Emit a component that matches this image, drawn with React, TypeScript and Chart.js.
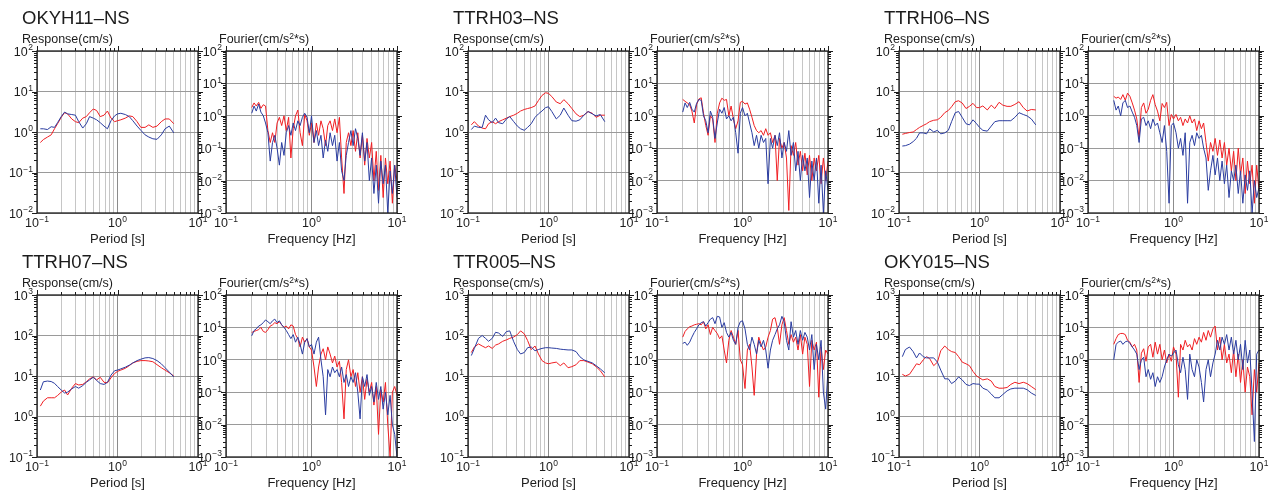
import React, { useEffect, useRef } from "react";
import { Chart, registerables } from "chart.js";

Chart.register(...registerables);

// ---------------------------------------------------------------------------
// Data: response spectra (period grid) and Fourier spectra (frequency grid)
// ---------------------------------------------------------------------------

const PERIOD = [
  0.11, 0.12, 0.135, 0.15, 0.165, 0.18, 0.2, 0.22, 0.24, 0.27,
  0.3, 0.33, 0.37, 0.41, 0.45, 0.5, 0.55, 0.61, 0.68, 0.75,
  0.83, 0.92, 1.0, 1.1, 1.25, 1.4, 1.55, 1.75, 1.95, 2.2,
  2.45, 2.75, 3.1, 3.5, 3.9, 4.4, 5.0,
];

const FREQ = [
  0.2, 0.213, 0.226, 0.241, 0.256, 0.273, 0.29, 0.309,
  0.329, 0.35, 0.372, 0.396, 0.421, 0.448, 0.477, 0.507,
  0.54, 0.574, 0.611, 0.65, 0.692, 0.736, 0.783, 0.833,
  0.887, 0.943, 1.0, 1.07, 1.14, 1.21, 1.29, 1.37,
  1.46, 1.55, 1.65, 1.76, 1.87, 1.99, 2.12, 2.25,
  2.4, 2.55, 2.71, 2.89, 3.07, 3.27, 3.48, 3.7,
  3.94, 4.19, 4.46, 4.75, 5.05, 5.37, 5.72, 6.08,
  6.47, 6.89, 7.33, 7.8, 8.3, 8.83, 9.4, 10.0,
];

// --- OKYH11 ---
const OKYH11_RESP_RED = [
  0.55, 0.65, 0.75, 0.85, 1.2, 1.6, 2.3, 3.0, 2.8, 2.1,
  1.8, 1.7, 2.2, 2.4, 3.0, 3.7, 3.4, 2.4, 2.6, 3.3,
  2.2, 1.8, 1.9, 2.0, 2.2, 2.5, 2.4, 1.8, 1.3, 1.3,
  1.5, 1.3, 1.4, 1.8, 2.1, 2.1, 1.6,
];
const OKYH11_RESP_BLUE = [
  1.2, 1.2, 1.15, 1.35, 1.3, 1.7, 2.4, 3.1, 2.8, 2.7,
  2.6, 1.8, 1.25, 1.6, 2.4, 2.2, 2.0, 1.7, 1.4, 1.2,
  1.9, 2.5, 2.8, 2.9, 2.7, 2.4, 1.9, 1.4, 1.1, 0.85,
  0.75, 0.68, 0.66, 0.85, 1.2, 1.4, 0.95,
];
const OKYH11_FOUR_RED = [
  1.8, 2.5, 2.0, 2.6, 1.7, 2.2, 2.0, 0.35,
  0.15, 0.3, 0.15, 0.6, 0.9, 0.5, 1.0, 0.35,
  0.9, 0.05, 0.4, 1.0, 1.5, 0.3, 0.12, 1.1,
  0.7, 0.25, 0.6, 0.15, 0.6, 0.25, 0.7, 0.4,
  0.12, 0.5, 0.7, 0.35, 0.8, 0.3, 0.9, 0.05,
  0.004, 0.15, 0.3, 0.12, 0.35, 0.08, 0.3, 0.05,
  0.25, 0.03, 0.2, 0.05, 0.15, 0.01, 0.08, 0.005,
  0.06, 0.003, 0.05, 0.008, 0.04, 0.002, 0.03, 0.01,
];
const OKYH11_FOUR_BLUE = [
  1.2, 2.0, 1.4, 2.3, 1.3, 1.0, 0.6, 0.3,
  0.04, 0.15, 0.25, 0.1, 0.03, 0.15, 0.06, 0.3,
  0.5, 0.25, 0.6, 0.35, 0.7, 0.5, 0.9, 1.2,
  0.9, 0.3, 1.0, 0.15, 0.35, 0.12, 0.25, 0.05,
  0.18, 0.08, 0.3, 0.12, 0.25, 0.04, 0.15, 0.02,
  0.01, 0.06, 0.15, 0.35, 0.12, 0.4, 0.2, 0.06,
  0.3, 0.04, 0.15, 0.01, 0.05, 0.004, 0.03, 0.002,
  0.04, 0.008, 0.03, 0.001, 0.02, 0.004, 0.03, 0.003,
];

// --- TTRH03 ---
const TTRH03_RESP_RED = [
  1.5, 1.8, 1.4, 1.25, 1.2, 1.6, 1.8, 1.6, 1.8, 2.0,
  2.2, 2.4, 2.6, 2.9, 3.3, 3.6, 3.8, 4.0, 4.4, 6.0,
  8.0, 9.3, 9.0, 7.5, 5.5, 5.0, 6.3, 5.0, 3.8, 2.8,
  2.4, 2.6, 3.2, 2.9, 2.3, 2.6, 2.6,
];
const TTRH03_RESP_BLUE = [
  1.15, 1.4, 1.3, 1.3, 2.6, 2.0, 1.7, 2.2, 1.7, 1.6,
  2.1, 2.4, 1.8, 1.4, 1.2, 1.1, 1.3, 1.6, 2.3, 2.8,
  3.3, 4.0, 4.2, 3.2, 2.1, 2.6, 3.9, 2.6, 1.9, 1.85,
  2.0, 2.6, 3.2, 2.8, 2.5, 2.7, 1.8,
];
const TTRH03_FOUR_RED = [
  3.2, 2.8, 2.5, 2.2, 1.4, 0.6, 2.2, 3.3,
  3.6, 1.2, 0.5, 0.25, 1.0, 0.8, 0.15, 1.2,
  2.5, 3.5, 3.0, 3.2, 1.0, 2.0, 0.8, 0.4,
  0.7, 2.6, 2.8, 2.3, 2.5, 1.6, 0.9, 0.5,
  0.35, 0.3, 0.35, 0.25, 0.4, 0.25, 0.3, 0.15,
  0.25, 0.01, 0.2, 0.1, 0.15, 0.05, 0.0012, 0.12,
  0.06, 0.15, 0.03, 0.08, 0.02, 0.07, 0.015, 0.06,
  0.01, 0.05, 0.02, 0.06, 0.008, 0.05, 0.01, 0.04,
];
const TTRH03_FOUR_BLUE = [
  1.3, 2.5, 1.8, 2.6, 1.6, 1.3, 2.4, 3.2,
  3.0, 1.0, 0.7, 0.3, 1.4, 0.9, 0.2, 0.6,
  1.6, 1.2, 1.8, 0.8, 1.0, 0.7, 0.9, 0.3,
  0.07, 1.2, 1.8, 1.0, 1.2, 0.6, 0.3, 0.12,
  0.25, 0.1, 0.25, 0.15, 0.2, 0.008, 0.2, 0.1,
  0.25, 0.12, 0.3, 0.05, 0.15, 0.08, 0.35, 0.06,
  0.15, 0.02, 0.08, 0.01, 0.06, 0.02, 0.05, 0.003,
  0.04, 0.01, 0.05, 0.002, 0.03, 0.001, 0.02, 0.005,
];

// --- TTRH06 ---
const TTRH06_RESP_RED = [
  0.88, 0.92, 0.97, 1.0, 1.15, 1.3, 1.45, 1.6, 1.8, 1.95,
  2.0, 2.3, 3.0, 3.4, 4.2, 5.6, 5.9, 5.2, 3.8, 4.3,
  5.1, 4.0, 4.0, 4.4, 3.5, 4.6, 3.8, 5.4, 4.6, 4.3,
  4.3, 4.8, 5.6, 4.0, 3.3, 3.6, 3.5,
];
const TTRH06_RESP_BLUE = [
  0.45, 0.46, 0.5, 0.58, 0.7, 0.95, 0.95, 0.9, 1.2, 1.0,
  1.1, 0.9, 0.95, 1.1, 1.8, 3.0, 3.2, 2.3, 1.6, 1.5,
  2.0, 1.6, 1.3, 1.1, 1.05, 1.4, 1.8, 1.9, 1.9, 1.9,
  1.9, 2.3, 3.0, 2.7, 2.5, 2.1, 1.5,
];
const TTRH06_FOUR_RED = [
  4.0, 3.5, 3.8, 3.2, 4.5, 3.0, 5.0, 4.0,
  2.5, 1.5, 0.8, 0.2, 1.8, 2.5, 1.2, 1.6,
  3.0, 4.5, 2.2, 1.4, 0.7, 2.4, 1.8, 2.6,
  0.5, 1.1, 0.8, 1.1, 0.7, 0.9, 0.5, 0.8,
  0.6, 1.0, 0.6, 0.8, 0.35, 0.7, 0.4, 0.6,
  0.15, 0.04, 0.15, 0.08, 0.2, 0.06, 0.18, 0.05,
  0.15, 0.03, 0.1, 0.02, 0.08, 0.01, 0.1, 0.015,
  0.05, 0.004, 0.04, 0.008, 0.03, 0.002, 0.03, 0.005,
];
const TTRH06_FOUR_BLUE = [
  3.0, 1.5, 2.0, 1.0, 2.5, 3.0, 1.8, 2.0,
  1.3, 0.9, 0.5, 0.15, 0.8, 0.9, 0.5, 0.7,
  0.4, 0.8, 0.5, 0.6, 0.3, 0.15, 0.5, 0.08,
  0.002, 0.5, 0.6, 0.3, 0.1, 0.2, 0.06, 0.3,
  0.002, 0.15, 0.25, 0.12, 0.3, 0.2, 0.25, 0.1,
  0.05, 0.005, 0.02, 0.06, 0.015, 0.05, 0.01, 0.04,
  0.008, 0.03, 0.003, 0.02, 0.01, 0.03, 0.004, 0.02,
  0.002, 0.015, 0.005, 0.02, 0.001, 0.01, 0.003, 0.006,
];

// --- TTRH07 ---
const TTRH07_RESP_RED = [
  1.8, 2.4, 2.9, 2.9, 2.9, 3.3, 4.0, 4.5, 3.4, 5.0,
  6.5, 6.0, 6.2, 7.2, 8.5, 9.5, 8.0, 9.3, 7.0, 6.8,
  9.0, 11.5, 13, 14, 15.5, 18, 21, 23, 24, 24,
  23.5, 22.5, 19, 16, 14, 12, 10,
];
const TTRH07_RESP_BLUE = [
  4.5, 7.2, 7.5, 7.3, 6.6, 5.5, 4.5, 3.8, 4.0, 4.8,
  5.5, 5.0, 5.8, 7.0, 8.0, 9.3, 7.8, 6.5, 6.2, 7.0,
  10.5, 13.5, 14, 15, 16.5, 18.5, 21, 24, 26, 28,
  28.5, 27, 24, 20, 16, 12.5, 9.5,
];
const TTRH07_FOUR_RED = [
  7.0, 7.5, 8.0, 8.5, 10, 7.5, 7.0, 8.5,
  11, 12, 14, 13, 15, 12, 10, 11,
  9, 12, 11, 6, 4.5, 2.5, 5.0, 3.5,
  4.5, 2.5, 2.0, 0.6, 0.15, 0.6, 1.5, 2.2,
  1.0, 2.5, 1.5, 0.8, 1.3, 0.6, 0.9, 0.2,
  0.015, 0.5, 1.0, 0.3, 0.5, 0.15, 0.4, 0.1,
  0.3, 0.06, 0.25, 0.1, 0.2, 0.04, 0.15, 0.005,
  0.12, 0.05, 0.2, 0.01, 0.001, 0.1, 0.15, 0.08,
];
const TTRH07_FOUR_BLUE = [
  5.5, 8.0, 9.0, 11, 12, 14, 17, 15,
  13, 16, 18, 14, 16, 12, 10, 8,
  6, 4.5, 6, 3.5, 5, 3, 1.5, 3.5,
  4.5, 2.5, 3.0, 1.5, 3.5, 5.0, 1.0, 0.3,
  0.02, 0.5, 0.3, 0.6, 0.4, 0.5, 0.3, 0.6,
  0.2, 0.35, 0.15, 0.3, 0.2, 0.4, 0.1, 0.015,
  0.3, 0.15, 0.35, 0.08, 0.15, 0.05, 0.2, 0.06,
  0.15, 0.03, 0.1, 0.02, 0.08, 0.01, 0.005, 0.001,
];

// --- TTR005 ---
const TTR005_RESP_RED = [
  38, 52, 62, 55, 50, 55, 48, 58, 62, 72,
  78, 85, 92, 105, 130, 110, 75, 45, 55, 35,
  24, 21, 20, 21, 22, 18, 21, 16, 17, 19,
  24, 24, 22, 20, 17, 13.5, 9.5,
];
const TTR005_RESP_BLUE = [
  32, 48, 85, 100, 85, 72, 85, 120, 115, 95,
  125, 130, 70, 45, 35, 38, 50, 52, 42, 45,
  48, 50, 50, 49, 48, 46, 45, 44, 44, 40,
  30, 25, 23, 21, 18, 15, 12,
];
const TTR005_FOUR_RED = [
  5.0, 7.5, 9, 10.5, 11, 12, 12.5, 13,
  12, 15, 9, 12, 6, 10, 8, 6.5,
  4.5, 5.5, 2.0, 0.8, 4.0, 8, 5, 3,
  8, 1.0, 0.7, 0.13, 2.0, 3.0, 0.6, 0.08,
  1.5, 5, 3, 2.0, 2.5, 5, 8, 18,
  20, 10, 3, 12, 20, 8, 3, 6,
  3.5, 5, 2, 6, 1.5, 5, 3, 0.15,
  4, 2, 3.5, 0.07, 2.5, 0.5, 2, 1.5,
];
const TTR005_FOUR_BLUE = [
  3.2, 3.5, 2.8, 3.5, 5, 7, 9, 12,
  14, 15, 11, 14, 18, 20, 13, 22,
  21, 10, 14, 7, 5, 7, 4, 3,
  10, 15, 16, 9, 3, 2, 5, 3,
  1.5, 4, 2.5, 4, 2, 0.55, 2, 4,
  6, 9, 12, 22, 15, 4, 2, 15,
  5, 8, 3, 8, 4, 7, 5, 2,
  6, 0.5, 3, 1, 4, 0.1, 0.03, 0.5,
];

// --- OKY015 ---
const OKY015_RESP_RED = [
  11, 10, 11, 15, 20, 19, 25, 30, 27, 18,
  22, 42, 55, 45, 40, 38, 30, 22, 20, 18,
  13, 10, 9, 8, 8.5, 7.5, 5.5, 5.0, 5.0, 5.2,
  6.2, 7.0, 6.5, 7.0, 6.5, 5.5, 4.6,
];
const OKY015_RESP_BLUE = [
  30, 45, 52, 40, 28, 37, 30, 28, 28, 28,
  22, 14, 8.5, 8.5, 6.5, 7.5, 9.5, 8.0, 6.2, 5.8,
  6.5, 6.3, 6.3, 5.0, 4.5, 3.6, 2.9, 2.9, 3.5, 4.3,
  4.8, 5.0, 5.0, 5.0, 4.6, 3.8, 3.3,
];
const OKY015_FOUR_RED = [
  3.0, 4.5, 6.0, 6.5, 6.5, 6.0, 4.0, 3.5,
  2.5, 3.0, 2.0, 0.2, 1.6, 2.2, 0.9, 2.5,
  3.0, 1.2, 3.5, 1.5, 3.0, 1.0, 2.0, 0.8,
  1.5, 0.9, 2.5, 1.5, 0.07, 3.0, 2.0, 4.0,
  2.5, 3.0, 2.0, 4.5, 3.0, 5.0, 3.5, 7.0,
  4.0, 8.0, 5.0, 9.0, 11, 2.0, 5.0, 1.0,
  3.0, 0.8, 1.5, 0.4, 2.0, 0.3, 1.5, 0.2,
  1.0, 0.1, 0.6, 0.3, 0.02, 0.5, 0.1, 0.8,
];
const OKY015_FOUR_BLUE = [
  1.0, 3.0, 3.5, 3.8, 3.0, 3.6, 3.8, 3.2,
  2.5, 2.0, 1.5, 0.5, 1.0, 1.2, 0.3, 0.5,
  0.25, 0.4, 0.15, 0.3, 0.2, 0.3, 0.6, 1.0,
  1.5, 1.3, 1.6, 2.0, 0.7, 0.4, 1.2, 0.5,
  0.06, 1.5, 0.5, 0.3, 1.0, 0.6, 0.2, 0.05,
  0.5, 1.0, 0.3, 0.8, 1.5, 4.0, 2.0, 5.0,
  3.0, 6.0, 2.0, 5.0, 1.5, 4.0, 1.0, 3.0,
  0.5, 4.0, 0.8, 2.0, 0.1, 0.003, 1.5, 2.0,
];

const STATIONS = ["OKYH11–NS", "TTRH03–NS", "TTRH06–NS", "TTRH07–NS", "TTR005–NS", "OKY015–NS"];

const RESP_RED = [OKYH11_RESP_RED, TTRH03_RESP_RED, TTRH06_RESP_RED, TTRH07_RESP_RED, TTR005_RESP_RED, OKY015_RESP_RED];
const RESP_BLUE = [OKYH11_RESP_BLUE, TTRH03_RESP_BLUE, TTRH06_RESP_BLUE, TTRH07_RESP_BLUE, TTR005_RESP_BLUE, OKY015_RESP_BLUE];
const FOUR_RED = [OKYH11_FOUR_RED, TTRH03_FOUR_RED, TTRH06_FOUR_RED, TTRH07_FOUR_RED, TTR005_FOUR_RED, OKY015_FOUR_RED];
const FOUR_BLUE = [OKYH11_FOUR_BLUE, TTRH03_FOUR_BLUE, TTRH06_FOUR_BLUE, TTRH07_FOUR_BLUE, TTR005_FOUR_BLUE, OKY015_FOUR_BLUE];

// Axis ranges as decade exponents [low, high]
const X_RANGE = [-1, 1];
const RESP_Y_RANGE = [[-2, 2], [-2, 2], [-2, 2], [-1, 3], [-1, 3], [-1, 3]];
const FOUR_Y_RANGE = [-3, 2];

// ---------------------------------------------------------------------------
// Layout and style
// ---------------------------------------------------------------------------

const PAGE_W = 1275;
const PAGE_H = 490;
const RESP_LEFT = [37, 468, 899];
const FOUR_LEFT = [226, 657, 1088];
const ROW_TOP = [51, 295];
const RESP_W = 161;
const FOUR_W = 171;
const PLOT_H = 162;

const RED = "rgb(240, 30, 34)";
const BLUE = "rgb(42, 60, 160)";
const INK = "#1c1c1c";
const FONT = '"Liberation Sans", Arial, Helvetica, sans-serif';
const TICK_PX = 12.5;
const EXP_PX = 8.5;

const isDecade = (v: number) => {
  const l = Math.log10(v);
  return Math.abs(l - Math.round(l)) < 1e-6;
};

// 1..9 x 10^e tick values between 10^lo and 10^hi
function logTicks(lo: number, hi: number) {
  const out: number[] = [];
  for (let e = lo; e < hi; e++) {
    for (let k = 1; k < 10; k++) out.push(k * Math.pow(10, e));
  }
  out.push(Math.pow(10, hi));
  return out;
}

// Draws "10" with a raised exponent
function drawPower(ctx: CanvasRenderingContext2D, x: number, y: number, exp: number, align: "right" | "center") {
  const base = "10";
  const sup = exp < 0 ? "−" + Math.abs(exp) : String(exp);
  ctx.font = `${TICK_PX}px ${FONT}`;
  const bw = ctx.measureText(base).width;
  ctx.font = `${EXP_PX}px ${FONT}`;
  const sw = ctx.measureText(sup).width;
  const total = bw + sw + 0.5;
  const x0 = align === "right" ? x - total : x - total / 2;
  ctx.textAlign = "left";
  ctx.textBaseline = "middle";
  ctx.font = `${TICK_PX}px ${FONT}`;
  ctx.fillText(base, x0, y);
  ctx.font = `${EXP_PX}px ${FONT}`;
  ctx.fillText(sup, x0 + bw + 0.5, y - 4.5);
}

const framePlugin = {
  id: "frameAndDecades",
  afterDraw(chart: any) {
    const { ctx, chartArea: a, scales } = chart;
    const xs = scales.x;
    const ys = scales.y;
    ctx.save();
    ctx.strokeStyle = INK;
    ctx.lineWidth = 1;
    ctx.beginPath();
    ys.ticks.forEach((t: any) => {
      const py = Math.round(ys.getPixelForValue(t.value)) + 0.5;
      const len = isDecade(t.value) ? 5 : 3;
      ctx.moveTo(a.left - len, py);
      ctx.lineTo(a.left, py);
      ctx.moveTo(a.right, py);
      ctx.lineTo(a.right + len, py);
    });
    xs.ticks.forEach((t: any) => {
      const px = Math.round(xs.getPixelForValue(t.value)) + 0.5;
      const len = isDecade(t.value) ? 5 : 3;
      ctx.moveTo(px, a.top - len);
      ctx.lineTo(px, a.top);
    });
    ctx.stroke();

    ctx.lineWidth = 1.3;
    ctx.strokeRect(a.left, a.top, a.right - a.left, a.bottom - a.top);

    ctx.fillStyle = INK;
    ys.ticks.forEach((t: any) => {
      if (!isDecade(t.value)) return;
      drawPower(ctx, a.left - 4, ys.getPixelForValue(t.value) + 1.5, Math.round(Math.log10(t.value)), "right");
    });
    xs.ticks.forEach((t: any) => {
      if (!isDecade(t.value)) return;
      drawPower(ctx, xs.getPixelForValue(t.value), a.bottom + 11, Math.round(Math.log10(t.value)), "center");
    });
    ctx.restore();
  },
};

type PanelSpec = {
  id: string;
  xs: number[];
  red: number[];
  blue: number[];
  left: number;
  top: number;
  width: number;
  yLo: number;
  yHi: number;
};

function toPoints(xs: number[], ys: number[]) {
  const n = Math.min(xs.length, ys.length);
  const pts = [];
  for (let i = 0; i < n; i++) pts.push({ x: xs[i], y: ys[i] });
  return pts;
}

function SpectrumPanel({ p }: { p: PanelSpec }) {
  const ref = useRef<HTMLCanvasElement | null>(null);

  useEffect(() => {
    if (!ref.current) return;
    const xTicks = logTicks(X_RANGE[0], X_RANGE[1]);
    const yTicks = logTicks(p.yLo, p.yHi);
    const chart = new Chart(ref.current, {
      type: "line",
      data: {
        datasets: [
          {
            data: toPoints(p.xs, p.blue),
            borderColor: BLUE,
            borderWidth: 1,
            pointRadius: 0,
            tension: 0,
            fill: false,
          },
          {
            data: toPoints(p.xs, p.red),
            borderColor: RED,
            borderWidth: 1,
            pointRadius: 0,
            tension: 0,
            fill: false,
          },
        ],
      },
      options: {
        responsive: false,
        animation: false,
        events: [],
        layout: {
          padding: {
            left: p.left,
            top: p.top,
            right: PAGE_W - p.left - p.width,
            bottom: PAGE_H - p.top - PLOT_H,
          },
        },
        plugins: {
          legend: { display: false },
          tooltip: { enabled: false },
        },
        scales: {
          x: {
            type: "logarithmic",
            min: Math.pow(10, X_RANGE[0]),
            max: Math.pow(10, X_RANGE[1]),
            afterBuildTicks: (s: any) => {
              s.ticks = xTicks.map((v) => ({ value: v }));
            },
            afterFit: (s: any) => {
              s.height = 0;
            },
            ticks: { display: false },
            border: { display: false },
            grid: {
              drawTicks: false,
              lineWidth: 1,
              color: (c: any) => (isDecade(c.tick.value) ? "#8c8c8c" : "#c6c6c6"),
            },
          },
          y: {
            type: "logarithmic",
            min: Math.pow(10, p.yLo),
            max: Math.pow(10, p.yHi),
            afterBuildTicks: (s: any) => {
              s.ticks = yTicks.map((v) => ({ value: v }));
            },
            afterFit: (s: any) => {
              s.width = 0;
            },
            ticks: { display: false },
            border: { display: false },
            grid: {
              drawTicks: false,
              lineWidth: 1,
              color: (c: any) => (isDecade(c.tick.value) ? "#9a9a9a" : "rgba(0,0,0,0)"),
            },
          },
        },
      } as any,
      plugins: [framePlugin],
    });
    return () => chart.destroy();
  }, [p]);

  return (
    <canvas
      ref={ref}
      width={PAGE_W}
      height={PAGE_H}
      style={{ position: "absolute", left: 0, top: 0, width: PAGE_W, height: PAGE_H }}
    />
  );
}

function Text({
  left,
  cy,
  size,
  width,
  center,
  children,
}: {
  left: number;
  cy: number;
  size: number;
  width?: number;
  center?: boolean;
  children: React.ReactNode;
}) {
  return (
    <div
      style={{
        position: "absolute",
        left,
        top: cy - size * 0.5,
        width: width ?? "auto",
        height: size,
        lineHeight: `${size}px`,
        fontSize: size,
        fontFamily: FONT,
        color: INK,
        whiteSpace: "nowrap",
        textAlign: center ? "center" : "left",
      }}
    >
      {children}
    </div>
  );
}

const PANELS: PanelSpec[] = [];
STATIONS.forEach((_, i) => {
  const col = i % 3;
  const row = Math.floor(i / 3);
  PANELS.push({
    id: `resp-${i}`,
    xs: PERIOD,
    red: RESP_RED[i],
    blue: RESP_BLUE[i],
    left: RESP_LEFT[col],
    top: ROW_TOP[row],
    width: RESP_W,
    yLo: RESP_Y_RANGE[i][0],
    yHi: RESP_Y_RANGE[i][1],
  });
  PANELS.push({
    id: `four-${i}`,
    xs: FREQ,
    red: FOUR_RED[i],
    blue: FOUR_BLUE[i],
    left: FOUR_LEFT[col],
    top: ROW_TOP[row],
    width: FOUR_W,
    yLo: FOUR_Y_RANGE[0],
    yHi: FOUR_Y_RANGE[1],
  });
});

export default function App() {
  return (
    <div
      style={{
        position: "absolute",
        left: 0,
        top: 0,
        width: PAGE_W,
        height: PAGE_H,
        background: "#ffffff",
        overflow: "hidden",
      }}
    >
      {PANELS.map((p) => (
        <SpectrumPanel key={p.id} p={p} />
      ))}
      {STATIONS.map((name, i) => {
        const col = i % 3;
        const row = Math.floor(i / 3);
        const top = ROW_TOP[row];
        const rl = RESP_LEFT[col];
        const fl = FOUR_LEFT[col];
        return (
          <React.Fragment key={name}>
            <Text left={rl - 15} cy={top - 33} size={18.5}>
              {name}
            </Text>
            <Text left={rl - 15} cy={top - 12} size={12.5}>
              Response(cm/s)
            </Text>
            <Text left={fl - 7} cy={top - 12} size={12.5}>
              Fourier(cm/s
              <span style={{ fontSize: 8.5, position: "relative", top: -4 }}>2</span>
              *s)
            </Text>
            <Text left={rl - 40} width={RESP_W + 80} center cy={top + PLOT_H + 25.5} size={13}>
              Period [s]
            </Text>
            <Text left={fl - 40} width={FOUR_W + 80} center cy={top + PLOT_H + 25.5} size={13}>
              Frequency [Hz]
            </Text>
          </React.Fragment>
        );
      })}
    </div>
  );
}
